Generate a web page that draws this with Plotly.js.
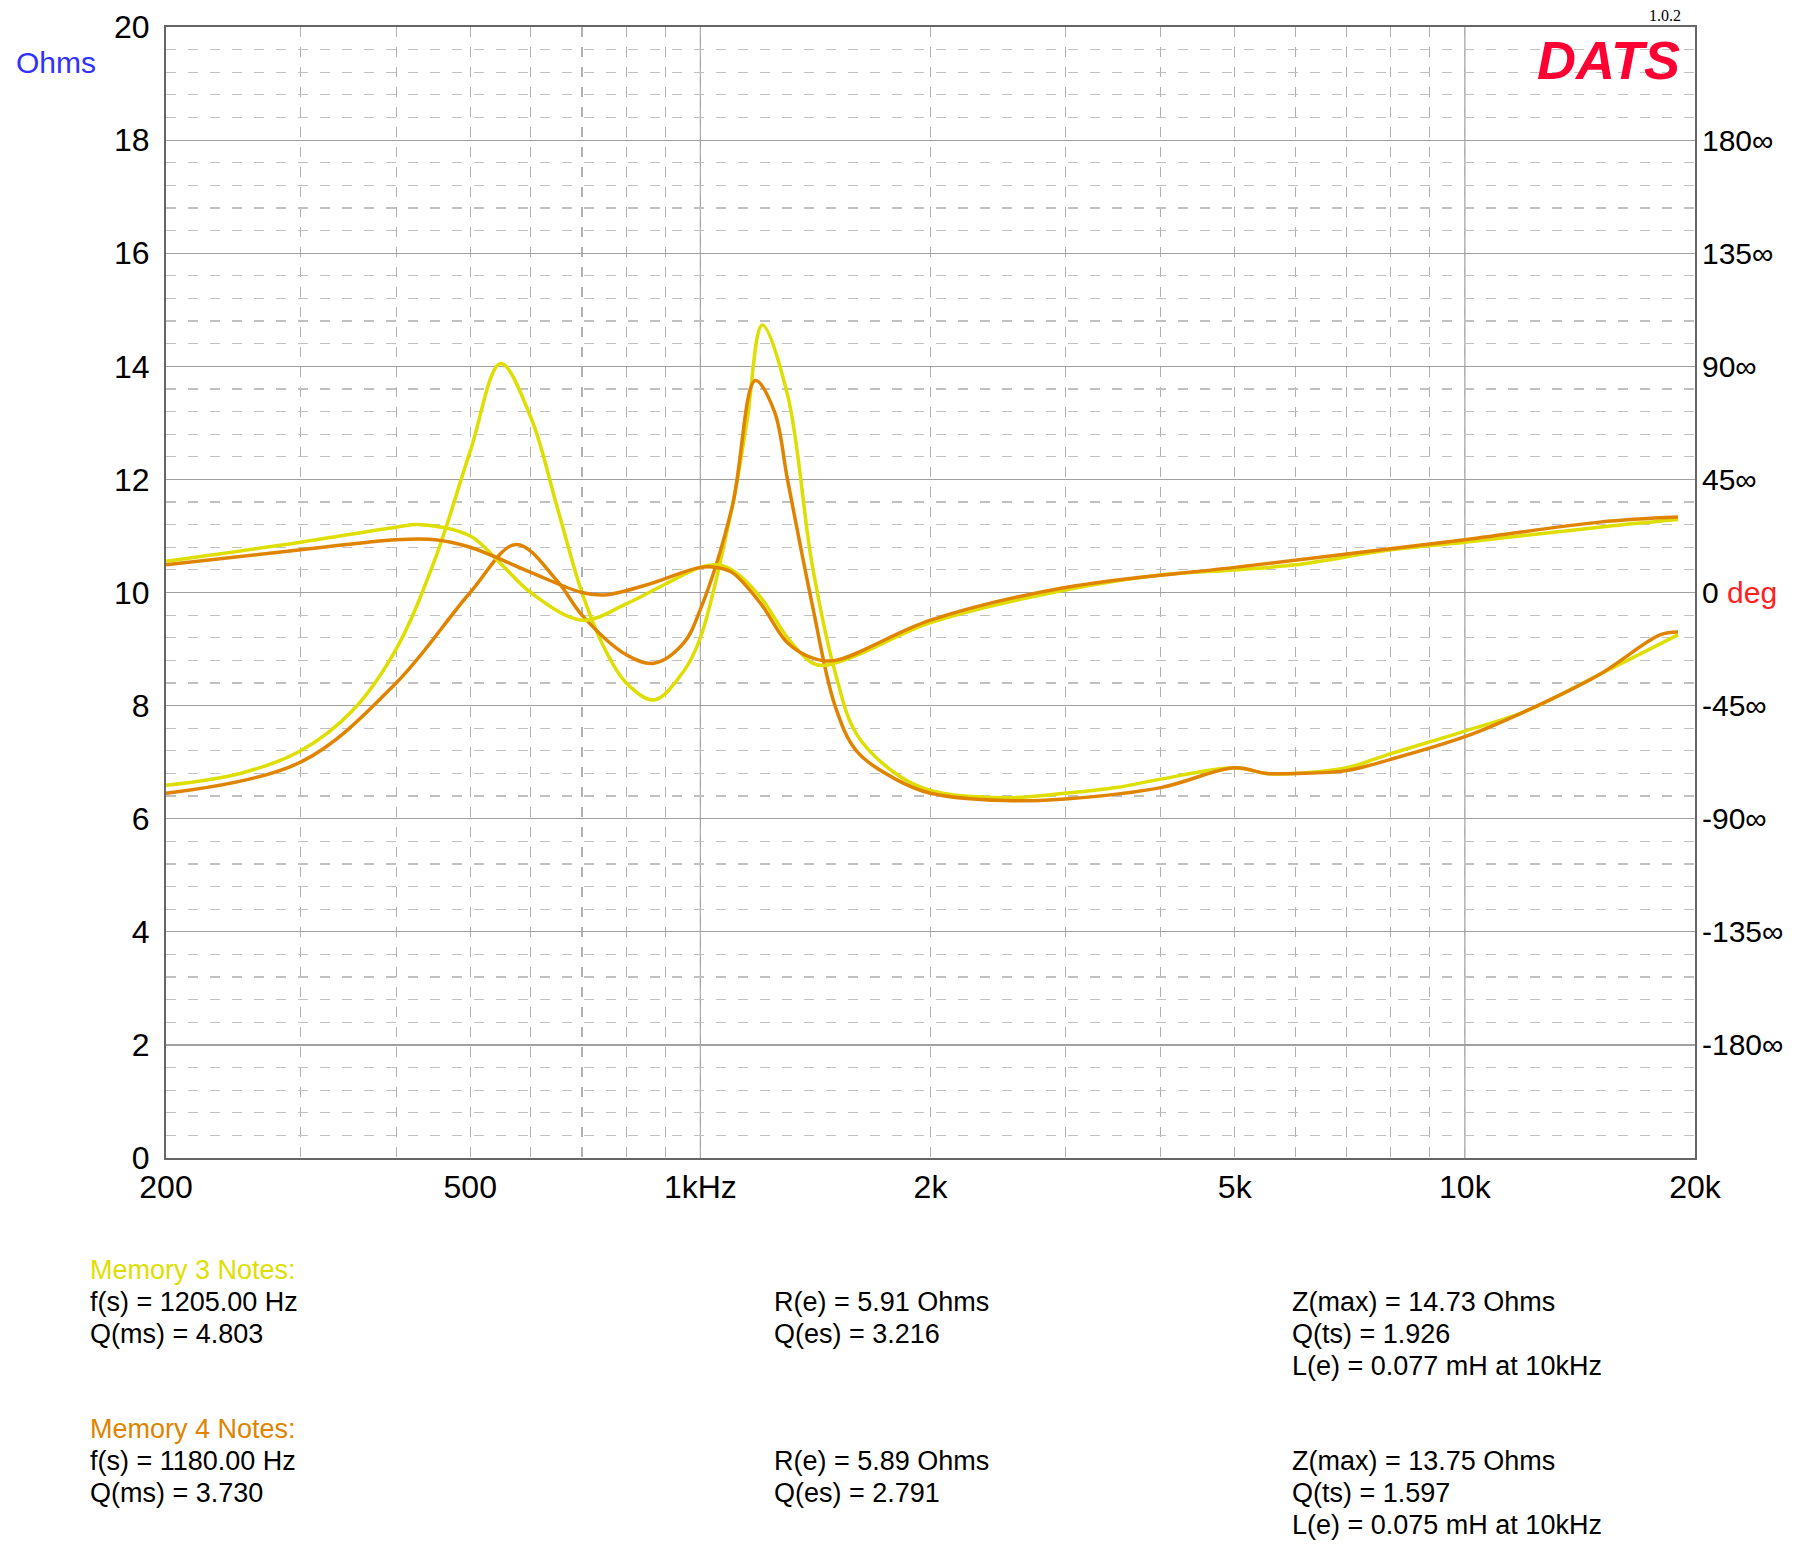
<!DOCTYPE html>
<html>
<head>
<meta charset="utf-8">
<script src="https://cdn.plot.ly/plotly-3.0.1.min.js"></script>
<style>body{margin:0;background:#fff}</style>
</head>
<body>
<div id="plot" style="width:1800px;height:1559px"></div>
<script>
// impedance magnitude (Hz, Ohms)
const memory3Freq = [200, 250, 300, 350, 400, 450, 500, 548, 600, 650, 700, 750, 800, 870, 950, 1000, 1100, 1150, 1205, 1300, 1400, 1500, 1600, 1800, 2000, 2500, 3000, 3500, 4000, 5000, 5500, 6000, 7000, 8000, 10000, 12000, 15000, 19000];
const memory3Ohms = [6.59, 6.8, 7.2, 7.9, 9.0, 10.6, 12.5, 14.05, 13.1, 11.5, 10.0, 9.0, 8.4, 8.1, 8.6, 9.2, 11.5, 13.0, 14.73, 13.5, 10.5, 8.6, 7.5, 6.8, 6.5, 6.37, 6.45, 6.55, 6.7, 6.9, 6.8, 6.8, 6.9, 7.15, 7.55, 7.9, 8.55, 9.25];

const memory4Freq = [200, 300, 400, 500, 574, 650, 700, 800, 870, 950, 1000, 1100, 1180, 1250, 1300, 1400, 1500, 1600, 1800, 2000, 2500, 3000, 4000, 5000, 5500, 6000, 7000, 8000, 10000, 12000, 15000, 18000, 19000];
const memory4Ohms = [6.45, 7.0, 8.4, 10.0, 10.85, 10.2, 9.6, 8.9, 8.75, 9.1, 9.7, 11.5, 13.75, 13.2, 12.0, 9.8, 8.0, 7.2, 6.7, 6.45, 6.32, 6.35, 6.55, 6.9, 6.8, 6.8, 6.85, 7.05, 7.45, 7.9, 8.55, 9.25, 9.3];

// phase (deg)
const phase3Freq = [200, 300, 400, 430, 500, 550, 600, 700, 800, 900, 1000, 1050, 1100, 1200, 1300, 1400, 1450, 1600, 2000, 3000, 4000, 5000, 6000, 8000, 10000, 15000, 19000];
const phase3Deg = [12.4, 20, 26, 27, 22.5, 11, 0, -11, -4.5, 3.4, 10, 11, 9, -2, -18, -28, -29, -25, -12, 1, 7, 9, 11, 17, 20, 26, 29];

const phase4Freq = [200, 300, 400, 450, 500, 600, 700, 750, 850, 1000, 1050, 1100, 1200, 1300, 1400, 1500, 2000, 3000, 5000, 10000, 15000, 19000];
const phase4Deg = [11, 17, 21, 21, 18, 8, 0, -1, 3, 10, 10, 8, -4.5, -20, -26, -27, -11, 2, 10, 21, 28, 30];

const xTickVals = [200, 500, 1000, 2000, 5000, 10000, 20000];
const xTickText = ['200', '500', '1kHz', '2k', '5k', '10k', '20k'];
const phaseTicks = [-180, -135, -90, -45, 0, 45, 90, 135, 180];
const phaseText = phaseTicks.map(d => d === 0 ? '0 <span style="color:#ff2020">deg</span>' : d + '∞');

const YELLOW = '#dede00';
const ORANGE = '#e08400';

function trace(x, y, color, axis) {
    return { x: x, y: y, yaxis: axis, mode: 'lines', line: { color: color, width: 3.5, shape: 'spline', smoothing: 1 }, hoverinfo: 'skip' };
}

const data = [
    trace(phase3Freq, phase3Deg, YELLOW, 'y2'),
    trace(phase4Freq, phase4Deg, ORANGE, 'y2'),
    trace(memory3Freq, memory3Ohms, YELLOW, 'y'),
    trace(memory4Freq, memory4Ohms, ORANGE, 'y')
];

const txt = (x, y, s, color) => ({ xref: 'paper', yref: 'paper', x: x, y: y, xanchor: 'left', yanchor: 'middle', showarrow: false, text: s, font: { size: 27, color: color || '#000', family: 'Arial, Liberation Sans' } });

// paper coords for the notes (plot area spans y 27..1158 of 1559)
const py = v => (1158 - v) / (1158 - 27);
const px = v => (v - 166) / (1695 - 166);

const notes = [
    txt(px(88), py(1270), 'Memory 3 Notes:', YELLOW),
    txt(px(88), py(1302), 'f(s) = 1205.00 Hz'),
    txt(px(88), py(1334), 'Q(ms) = 4.803'),
    txt(px(772), py(1302), 'R(e) = 5.91 Ohms'),
    txt(px(772), py(1334), 'Q(es) = 3.216'),
    txt(px(1290), py(1302), 'Z(max) = 14.73 Ohms'),
    txt(px(1290), py(1334), 'Q(ts) = 1.926'),
    txt(px(1290), py(1366), 'L(e) = 0.077 mH at 10kHz'),
    txt(px(88), py(1429), 'Memory 4 Notes:', ORANGE),
    txt(px(88), py(1461), 'f(s) = 1180.00 Hz'),
    txt(px(88), py(1493), 'Q(ms) = 3.730'),
    txt(px(772), py(1461), 'R(e) = 5.89 Ohms'),
    txt(px(772), py(1493), 'Q(es) = 2.791'),
    txt(px(1290), py(1461), 'Z(max) = 13.75 Ohms'),
    txt(px(1290), py(1493), 'Q(ts) = 1.597'),
    txt(px(1290), py(1525), 'L(e) = 0.075 mH at 10kHz')
];

const annotations = notes.concat([
    { xref: 'paper', yref: 'paper', x: px(14), y: py(62), xanchor: 'left', yanchor: 'middle', showarrow: false, text: 'Ohms', font: { size: 30, color: '#3030ff', family: 'Arial, Liberation Sans' } },
    { xref: 'paper', yref: 'paper', x: px(1682), y: py(60), xanchor: 'right', yanchor: 'middle', showarrow: false, text: '<b><i>DATS</i></b>', font: { size: 54, color: '#ff0033', family: 'Arial, Liberation Sans' } },
    { xref: 'paper', yref: 'paper', x: px(1683), y: py(16), xanchor: 'right', yanchor: 'middle', showarrow: false, text: '1.0.2', font: { size: 16, color: '#000', family: 'Liberation Serif, Times New Roman' } }
]);

// solid lines on decades 1k and 10k
const decadeLines = [0.34949, 0.84949].map(f => ({ type: 'line', xref: 'paper', yref: 'paper', x0: f, x1: f, y0: 0, y1: 1, line: { color: '#a0a0a0', width: 1.2 }, layer: 'below' }));

const layout = {
    width: 1800,
    height: 1559,
    margin: { l: 166, r: 105, t: 27, b: 401 },
    paper_bgcolor: '#fff',
    plot_bgcolor: '#fff',
    showlegend: false,
    font: { family: 'Arial, Liberation Sans', color: '#000' },
    xaxis: {
        type: 'log',
        range: [Math.log10(200), Math.log10(20000)],
        tickvals: xTickVals,
        ticktext: xTickText,
        tickfont: { size: 32 },
        showgrid: false,
        ticks: '',
        ticklen: 0,
        showline: true, linecolor: '#666', linewidth: 2, mirror: true,
        minor: { dtick: 'D1', showgrid: true, gridcolor: '#b0b0b0', griddash: '10px,10px', gridwidth: 1.2 },
        zeroline: false,
        fixedrange: true
    },
    yaxis: {
        range: [0, 20],
        dtick: 2,
        tickfont: { size: 32 },
        gridcolor: '#a0a0a0',
        gridwidth: 1.2,
        showline: true, linecolor: '#666', linewidth: 2, mirror: true,
        minor: { dtick: 0.4, showgrid: true, gridcolor: '#c0c0c0', griddash: '10px,12px', gridwidth: 1.2 },
        zeroline: false,
        ticklabelstandoff: 8,
        fixedrange: true
    },
    yaxis2: {
        overlaying: 'y',
        side: 'right',
        range: [-225, 225],
        tickvals: phaseTicks,
        ticktext: phaseText,
        tickfont: { size: 30 },
        showgrid: false,
        zeroline: false,
        ticklabelstandoff: 6,
        fixedrange: true
    },
    shapes: decadeLines,
    annotations: annotations
};

Plotly.newPlot('plot', data, layout, { displayModeBar: false, staticPlot: true });
</script>
</body>
</html>
